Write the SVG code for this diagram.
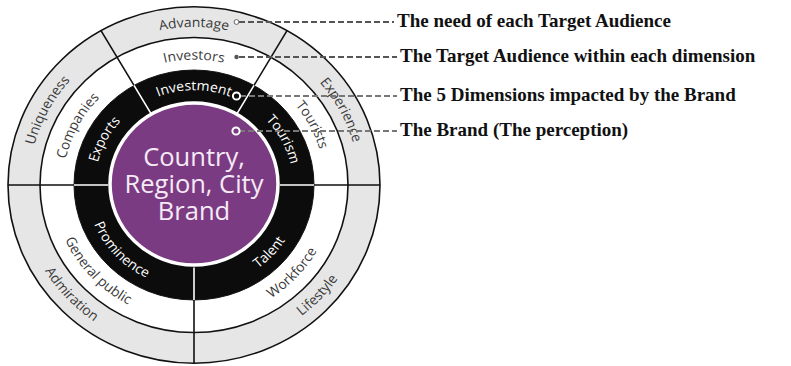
<svg xmlns="http://www.w3.org/2000/svg" xmlns:xlink="http://www.w3.org/1999/xlink" width="791" height="366" viewBox="0 0 791 366">
<style>
.ring-lbl{font-family:"Open Sans","DejaVu Sans",sans-serif;font-size:14px;fill:#3a3a3a;}
.ring-lbl-w{font-family:"Open Sans","DejaVu Sans",sans-serif;font-size:14px;fill:#ffffff;}
.brand-txt{font-family:"Open Sans","DejaVu Sans",sans-serif;font-size:25.5px;fill:#f6eaf6;text-anchor:middle;}
.legend{font-family:"Liberation Serif","Times New Roman",serif;font-weight:bold;font-size:19px;fill:#111;}
.div-b{stroke:#111;stroke-width:1.6;fill:none;}
.div-w{stroke:#ffffff;stroke-width:1.6;fill:none;}
.dash{stroke:#555;stroke-width:1.8;stroke-dasharray:6 3;fill:none;}
.dash2{stroke:#777;stroke-width:1.8;stroke-dasharray:6 3;fill:none;}
</style>
<defs>
<path id="a-adv" d="M -142.9 -82.5 A 165 165 0 0 1 142.9 -82.5"/>
<path id="a-exp" d="M 5.76 -164.9 A 165 165 0 0 1 139.9 87.4"/>
<path id="a-uni" d="M -139.9 87.4 A 165 165 0 0 1 -5.76 -164.9"/>
<path id="a-life" d="M -39.1 169.5 A 174 174 0 0 0 166.4 -50.9"/>
<path id="a-adm" d="M -166.4 -50.9 A 174 174 0 0 0 39.1 169.5"/>
<path id="a-inv" d="M -113.4 -65.5 A 131 131 0 0 1 113.4 -65.5"/>
<path id="a-tou" d="M 4.57 -130.9 A 131 131 0 0 1 111.1 69.4"/>
<path id="a-com" d="M -111.1 69.4 A 131 131 0 0 1 -4.57 -130.9"/>
<path id="a-work" d="M -31.7 137.4 A 141 141 0 0 0 134.8 -41.2"/>
<path id="a-gen" d="M -134.8 -41.2 A 141 141 0 0 0 31.7 137.4"/>
<path id="a-invm" d="M -85.7 -49.5 A 99 99 0 0 1 85.7 -49.5"/>
<path id="a-tour" d="M 3.46 -98.9 A 99 99 0 0 1 84.0 52.5"/>
<path id="a-exp2" d="M -84.0 52.5 A 99 99 0 0 1 -3.46 -98.9"/>
<path id="a-tal" d="M -24.3 105.2 A 108 108 0 0 0 103.3 -31.6"/>
<path id="a-pro" d="M -103.3 -31.6 A 108 108 0 0 0 24.3 105.2"/>
</defs>
<rect width="791" height="366" fill="#ffffff"/>
<g transform="translate(194,185) scale(1,0.958)">
  <g id="ring-needs">
    <circle r="186" fill="#e6e6e6" stroke="#111" stroke-width="1.6"/>
    <text class="ring-lbl"><textPath xlink:href="#a-adv" startOffset="50%" text-anchor="middle">Advantage</textPath></text>
    <text class="ring-lbl"><textPath xlink:href="#a-exp" startOffset="50%" text-anchor="middle">Experience</textPath></text>
    <text class="ring-lbl"><textPath xlink:href="#a-uni" startOffset="50%" text-anchor="middle">Uniqueness</textPath></text>
    <text class="ring-lbl"><textPath xlink:href="#a-life" startOffset="50%" text-anchor="middle">Lifestyle</textPath></text>
    <text class="ring-lbl"><textPath xlink:href="#a-adm" startOffset="50%" text-anchor="middle">Admiration</textPath></text>
  </g>
  <g id="ring-audiences">
    <circle r="154" fill="#ffffff" stroke="#111" stroke-width="1.6"/>
    <text class="ring-lbl"><textPath xlink:href="#a-inv" startOffset="50%" text-anchor="middle">Investors</textPath></text>
    <text class="ring-lbl"><textPath xlink:href="#a-tou" startOffset="50%" text-anchor="middle">Tourists</textPath></text>
    <text class="ring-lbl"><textPath xlink:href="#a-com" startOffset="50%" text-anchor="middle">Companies</textPath></text>
    <text class="ring-lbl"><textPath xlink:href="#a-work" startOffset="50%" text-anchor="middle">Workforce</textPath></text>
    <text class="ring-lbl"><textPath xlink:href="#a-gen" startOffset="50%" text-anchor="middle">General public</textPath></text>
  </g>
  <g id="ring-dimensions">
    <circle r="120" fill="#0c0c0c" stroke="#111" stroke-width="1"/>
    <text class="ring-lbl-w"><textPath xlink:href="#a-invm" startOffset="50%" text-anchor="middle">Investment</textPath></text>
    <text class="ring-lbl-w"><textPath xlink:href="#a-tour" startOffset="50%" text-anchor="middle">Tourism</textPath></text>
    <text class="ring-lbl-w"><textPath xlink:href="#a-exp2" startOffset="50%" text-anchor="middle">Exports</textPath></text>
    <text class="ring-lbl-w"><textPath xlink:href="#a-tal" startOffset="50%" text-anchor="middle">Talent</textPath></text>
    <text class="ring-lbl-w"><textPath xlink:href="#a-pro" startOffset="50%" text-anchor="middle">Prominence</textPath></text>
  </g>
  <g id="dividers">
    <path class="div-b" d="M -60 -103.9 L -93 -161.1 M 60 -103.9 L 93 -161.1 M 120 0 L 186 0 M 0 120 L 0 186 M -120 0 L -186 0"/>
    <path class="div-w" d="M -43 -74.5 L -60 -103.9 M 43 -74.5 L 60 -103.9 M 86 0 L 120 0 M 0 86 L 0 120 M -86 0 L -120 0"/>
  </g>
</g>
<g id="brand">
  <ellipse cx="194" cy="184" rx="84" ry="81" fill="#7b3b82" stroke="#ffffff" stroke-width="3.5"/>
  <text class="brand-txt" x="194" y="166">Country,</text>
  <text class="brand-txt" x="194" y="193">Region, City</text>
  <text class="brand-txt" x="194" y="220">Brand</text>
</g>
<g id="connectors">
  <path class="dash" d="M 239 22 L 394 22"/>
  <path class="dash" d="M 239 57 L 397 57"/>
  <path class="dash2" d="M 240 96 L 397 96"/>
  <path class="dash2" d="M 239 131 L 397 131"/>
  <circle cx="236.5" cy="22" r="2.4" fill="#ffffff" stroke="#666" stroke-width="1"/>
  <circle cx="236.5" cy="57" r="2.2" fill="#555"/>
  <circle cx="236.5" cy="96" r="3.6" fill="#0c0c0c" stroke="#ffffff" stroke-width="2"/>
  <circle cx="236" cy="131" r="3.6" fill="#7b3b82" stroke="#ffffff" stroke-width="2"/>
</g>
<g id="label-need"><text class="legend" x="397" y="27">The need of each Target Audience</text></g>
<g id="label-audience"><text class="legend" x="400" y="62">The Target Audience within each dimension</text></g>
<g id="label-dimensions"><text class="legend" x="400" y="101">The 5 Dimensions impacted by the Brand</text></g>
<g id="label-brand"><text class="legend" x="400" y="136">The Brand (The perception)</text></g>
</svg>
